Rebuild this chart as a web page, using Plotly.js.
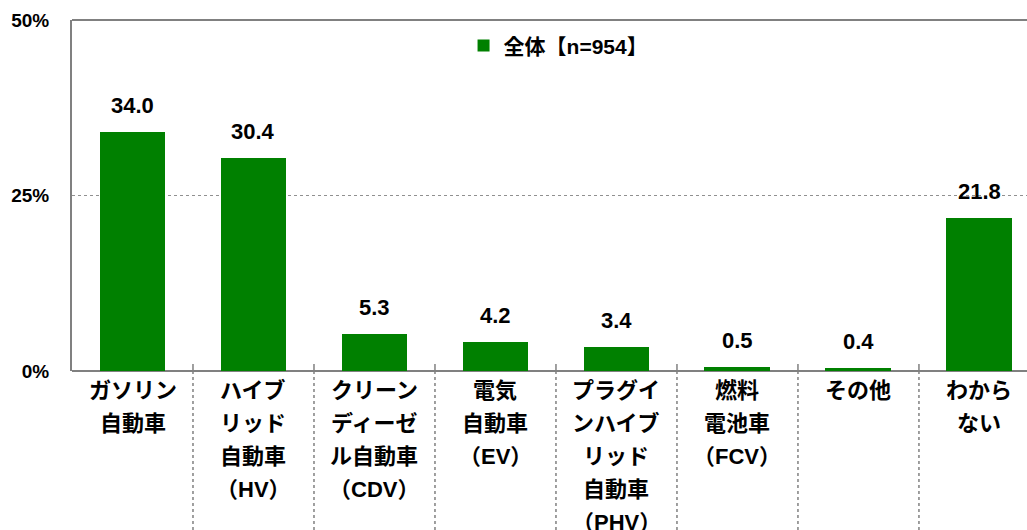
<!DOCTYPE html>
<html>
<head>
<meta charset="utf-8">
<script src="https://cdn.plot.ly/plotly-3.0.1.min.js"></script>
<style>html,body{margin:0;padding:0;background:#fff;}#chart{width:1027px;height:530px;}</style>
</head>
<body>
<div id="chart"></div>
<script>
const categoryLines = [
  ["ガソリン","自動車"],
  ["ハイブ","リッド","自動車","（HV）"],
  ["クリーン","ディーゼ","ル自動車","（CDV）"],
  ["電気","自動車","（EV）"],
  ["プラグイ","ンハイブ","リッド","自動車","（PHV）"],
  ["燃料","電池車","（FCV）"],
  ["その他"],
  ["わから","ない"]
];
const values = [34.0, 30.4, 5.3, 4.2, 3.4, 0.5, 0.4, 21.8];
const seriesName = "全体【n=954】";
const yTicks = [0, 25, 50];

const FONT = "Liberation Sans, Noto Sans CJK JP, sans-serif";
const xs = values.map((v, i) => i);

const trace = {
  type: "bar",
  x: xs,
  y: values,
  name: seriesName,
  width: 0.545,
  marker: {color: "#008000"},
  hoverinfo: "skip"
};

const annotations = [];
values.forEach((v, i) => {
  annotations.push({
    x: i, y: v, xref: "x", yref: "y",
    text: "<b>" + v.toFixed(1) + "</b>",
    showarrow: false, yanchor: "bottom", yshift: 12,
    font: {family: FONT, size: 22, color: "#000"}
  });
});
categoryLines.forEach((lines, i) => {
  lines.forEach((ln, j) => {
    annotations.push({
      x: i, y: 0, xref: "x", yref: "paper",
      text: "<b>" + ln + "</b>",
      showarrow: false, yanchor: "middle", yshift: -19 - j * 33,
      font: {family: FONT, size: 22, color: "#000"}
    });
  });
});

const shapes = [];
for (let k = 1; k < categoryLines.length; k++) {
  shapes.push({type: "line", xref: "x", yref: "paper", x0: k - 0.5, x1: k - 0.5, y0: 0, y1: -1.2,
    line: {color: "#808080", width: 1.5, dash: "dot"}});
  shapes.push({type: "line", xref: "x", yref: "paper", x0: k - 0.5, x1: k - 0.5, y0: 0, y1: 0.02,
    line: {color: "#808080", width: 1.5}});
}
shapes.push({type: "line", xref: "paper", yref: "paper", x0: 0, x1: 1, y0: 1, y1: 1,
  line: {color: "#808080", width: 2}});

const layout = {
  width: 1027, height: 530,
  margin: {l: 72, r: 0, t: 20, b: 159},
  paper_bgcolor: "#fff", plot_bgcolor: "#fff",
  font: {family: FONT, color: "#000"},
  showlegend: true,
  legend: {x: 0.41, y: 0.985, xanchor: "left", yanchor: "top",
    font: {family: FONT, size: 21, color: "#000", weight: "bold"}, bgcolor: "rgba(0,0,0,0)"},
  xaxis: {range: [-0.5, 7.393], showticklabels: false, showgrid: false, zeroline: false,
    showline: false, ticks: "", fixedrange: true},
  yaxis: {range: [0, 50], tickvals: yTicks, ticktext: yTicks.map(t => "<b>" + t + "%</b>"),
    tickfont: {family: FONT, size: 19, color: "#000"},
    showgrid: true, gridcolor: "#909090", griddash: "dot", gridwidth: 1,
    zeroline: true, zerolinecolor: "#808080", zerolinewidth: 2,
    showline: true, linecolor: "#808080", linewidth: 2,
    ticks: "outside", ticklen: 17, tickcolor: "rgba(0,0,0,0)", fixedrange: true},
  annotations: annotations,
  shapes: shapes,
  bargap: 0
};

Plotly.newPlot("chart", [trace], layout, {displayModeBar: false, staticPlot: true});
</script>
</body>
</html>
